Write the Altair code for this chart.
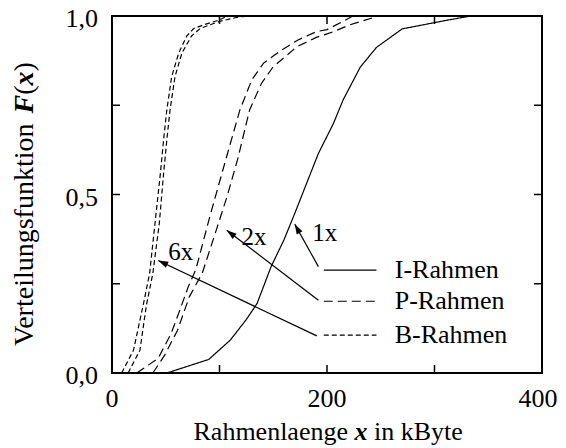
import math
import altair as alt
import pandas as pd

# ---------------- data ----------------
i_x = [51, 90, 110, 125, 135, 148, 160, 170, 181, 192, 206, 215, 231, 246, 270, 313, 334]
i_y = [0, 0.038, 0.092, 0.15, 0.195, 0.298, 0.373, 0.447, 0.531, 0.615, 0.699, 0.765, 0.857, 0.912, 0.964, 0.989, 1.0]

p1_x = [23, 43, 55, 62, 71, 78, 91, 107, 119, 130, 141, 158, 173, 190, 200, 215, 224]
p1_y = [0, 0.041, 0.111, 0.167, 0.242, 0.29, 0.438, 0.61, 0.737, 0.821, 0.868, 0.905, 0.933, 0.956, 0.962, 0.985, 1.0]

p2_x = [38, 49, 61, 72, 84, 99, 107, 117, 128, 139, 150, 172, 190, 206, 221, 248]
p2_y = [0, 0.05, 0.12, 0.214, 0.28, 0.419, 0.494, 0.6, 0.737, 0.811, 0.858, 0.914, 0.94, 0.956, 0.975, 1.0]

b1_x = [9, 20, 29, 35, 40, 45, 48, 51, 55.5, 62, 69.5, 76, 85, 100, 107]
b1_y = [0, 0.064, 0.19, 0.279, 0.419, 0.559, 0.653, 0.737, 0.83, 0.896, 0.944, 0.965, 0.975, 0.989, 1.0]

b2_x = [15, 26, 32, 38, 44, 48, 51, 54, 58.6, 65, 74, 82, 100, 119, 137]
b2_y = [0, 0.064, 0.19, 0.279, 0.419, 0.559, 0.653, 0.737, 0.83, 0.896, 0.944, 0.965, 0.985, 0.998, 1.0]

# legend
legend_kind = ["I", "P", "B"]
legend_label = ["I-Rahmen", "P-Rahmen", "B-Rahmen"]
legend_y = [0.288, 0.201, 0.106]
legend_x0 = 197
legend_x1 = 246
legend_text_x = 263

# annotations (arrows from legend to curve groups)
ann_label = ["1x", "2x", "6x"]
ann_x = [198, 132, 64]
ann_y = [0.392, 0.381, 0.339]
arrow_x0 = [192, 192, 190.5]
arrow_y0 = [0.298, 0.204, 0.104]
arrow_x1 = [170, 106.7, 43]
arrow_y1 = [0.417, 0.40, 0.315]

# axes
x_tick_values = [100, 200, 300]
x_label_values = [0, 200, 400]
x_label_text = ["0", "200", "400"]
y_tick_values = [0.25, 0.5, 0.75]
y_label_values = [0, 0.5, 1.0]
y_label_text = ["0,0", "0,5", "1,0"]

# ---------------- layout ----------------
W, H = 430, 357
FONT = "Liberation Serif"
FS = 26
sx = W / 400.0
sy = H / 1.0

kind_domain = ["I", "P", "B"]
dash_range = [[1, 0], [9, 5], [5, 3]]
width_range = [1.2, 1.2, 2.0]

xs = alt.Scale(domain=[0, 400], nice=False, zero=False)
ys = alt.Scale(domain=[0, 1], nice=False, zero=False)

rows = []
for name, kind, xx, yy in [("I", "I", i_x, i_y), ("P1", "P", p1_x, p1_y), ("P2", "P", p2_x, p2_y),
                           ("B1", "B", b1_x, b1_y), ("B2", "B", b2_x, b2_y)]:
    for k, (a, b) in enumerate(zip(xx, yy)):
        rows.append({"series": name, "kind": kind, "x": a, "y": b, "idx": k})
curves = pd.DataFrame(rows)

dash_enc = alt.StrokeDash("kind:N", scale=alt.Scale(domain=kind_domain, range=dash_range), legend=None)
width_enc = alt.StrokeWidth("kind:N", scale=alt.Scale(domain=kind_domain, range=width_range), legend=None)


def X(f):
    return alt.X(f, scale=xs, axis=None)


def Y(f):
    return alt.Y(f, scale=ys, axis=None)


lines = alt.Chart(curves).mark_line(color="black").encode(
    x=X("x:Q"), y=Y("y:Q"),
    detail="series:N",
    order="idx:Q",
    strokeDash=dash_enc,
    strokeWidth=width_enc,
)

# inward ticks on all four sides
xt = pd.DataFrame({"v": x_tick_values})
yt = pd.DataFrame({"v": y_tick_values})
TL = 8
tick_b = alt.Chart(xt).mark_rule(color="black", strokeWidth=1.5).encode(
    x=X("v:Q"), y=alt.value(H), y2=alt.value(H - TL))
tick_t = alt.Chart(xt).mark_rule(color="black", strokeWidth=1.5).encode(
    x=X("v:Q"), y=alt.value(0), y2=alt.value(TL))
tick_l = alt.Chart(yt).mark_rule(color="black", strokeWidth=1.5).encode(
    y=Y("v:Q"), x=alt.value(0), x2=alt.value(TL))
tick_r = alt.Chart(yt).mark_rule(color="black", strokeWidth=1.5).encode(
    y=Y("v:Q"), x=alt.value(W), x2=alt.value(W - TL))

# tick labels (the last x label is nudged left so it stays inside the page)
xl = pd.DataFrame({"v": x_label_values[:-1], "t": x_label_text[:-1]})
xl_last = pd.DataFrame({"v": x_label_values[-1:], "t": x_label_text[-1:]})
yl = pd.DataFrame({"v": y_label_values, "t": y_label_text})
xlab = alt.Chart(xl).mark_text(align="center", baseline="middle", font=FONT, fontSize=FS,
                               color="black").encode(x=X("v:Q"), y=alt.value(H + 26), text="t:N")
xlab_last = alt.Chart(xl_last).mark_text(align="center", baseline="middle", font=FONT, fontSize=FS,
                                         color="black", dx=-4).encode(x=X("v:Q"), y=alt.value(H + 26),
                                                                      text="t:N")
ylab = alt.Chart(yl).mark_text(align="right", baseline="middle", font=FONT, fontSize=FS,
                               color="black", dy=3).encode(y=Y("v:Q"), x=alt.value(-14), text="t:N")

# legend
leg = pd.DataFrame({"kind": legend_kind, "label": legend_label, "y": legend_y,
                    "x0": [legend_x0] * 3, "x1": [legend_x1] * 3, "tx": [legend_text_x] * 3})
leg_lines = alt.Chart(leg).mark_rule(color="black").encode(
    x=X("x0:Q"), x2="x1:Q", y=Y("y:Q"),
    strokeDash=dash_enc,
    strokeWidth=alt.value(1.2),
)
leg_text = alt.Chart(leg).mark_text(align="left", baseline="middle", font=FONT, fontSize=FS,
                                    color="black").encode(x=X("tx:Q"), y=Y("y:Q"), text="label:N")

# annotations
ang = []
for a0, b0, a1, b1 in zip(arrow_x0, arrow_y0, arrow_x1, arrow_y1):
    dx = (a1 - a0) * sx
    dy_up = (b1 - b0) * sy
    ang.append(math.degrees(math.atan2(dx, dy_up)) % 360)
arr = pd.DataFrame({"x0": arrow_x0, "y0": arrow_y0, "x1": arrow_x1, "y1": arrow_y1, "angle": ang})
arrow_lines = alt.Chart(arr).mark_rule(color="black", strokeWidth=1.2).encode(
    x=X("x0:Q"), y=Y("y0:Q"), x2="x1:Q", y2="y1:Q")
arrow_heads = alt.Chart(arr).mark_point(shape="M0,0 L0.33,1 L-0.33,1 Z", filled=True, color="black",
                                        opacity=1, size=400).encode(
    x=X("x1:Q"), y=Y("y1:Q"), angle=alt.Angle("angle:Q", scale=None))
ann = pd.DataFrame({"label": ann_label, "x": ann_x, "y": ann_y})
ann_text = alt.Chart(ann).mark_text(align="center", baseline="middle", font=FONT, fontSize=25,
                                    color="black").encode(x=X("x:Q"), y=Y("y:Q"), text="label:N")

# axis titles with bold-italic variables
dummy = pd.DataFrame({"a": [0]})


def txt(s, x, y, align, size, bold_italic=False, angle=0, baseline="alphabetic"):
    kw = dict(text=s, align=align, baseline=baseline, font=FONT, fontSize=size, color="black", angle=angle)
    if bold_italic:
        kw.update(fontWeight="bold", fontStyle="italic")
    return alt.Chart(dummy).mark_text(**kw).encode(x=alt.value(x), y=alt.value(y))


em = FS
cx = 249
ty = 424
xtitle = [
    txt("Rahmenlaenge", cx - 0.5 * em, ty, "right", FS),
    txt("x", cx, ty, "center", FS, bold_italic=True),
    txt("in kByte", cx + 0.5 * em, ty, "left", FS),
]

# y title: runs upward
YFS = 28
yem = YFS
yx = -87
ylen = (8.055 + 0.25 + 0.667 + 0.333 + 0.5 + 0.333) * yem
yb = 188 + ylen / 2
p = yb
ytitle = [txt("Verteilungsfunktion", yx, p, "left", YFS, angle=270, baseline="middle")]
p -= (8.055 + 0.25) * yem
ytitle.append(txt("F", yx, p, "left", YFS, bold_italic=True, angle=270, baseline="middle"))
p -= 0.667 * yem
ytitle.append(txt("(", yx, p, "left", YFS, angle=270, baseline="middle"))
p -= 0.333 * yem
ytitle.append(txt("x", yx, p, "left", YFS, bold_italic=True, angle=270, baseline="middle"))
p -= 0.5 * yem
ytitle.append(txt(")", yx, p, "left", YFS, angle=270, baseline="middle"))

chart = alt.layer(
    lines, tick_b, tick_t, tick_l, tick_r, xlab, xlab_last, ylab, leg_lines, leg_text,
    arrow_lines, arrow_heads, ann_text, *xtitle, *ytitle
).properties(
    width=W, height=H,
    autosize=alt.AutoSizeParams(type="none"),
    padding={"left": 104, "top": 8, "right": 16, "bottom": 75},
    background="white",
).configure_view(stroke="black", strokeWidth=2)

chart.save("out.html", embed_options={"renderer": "svg", "actions": False})
